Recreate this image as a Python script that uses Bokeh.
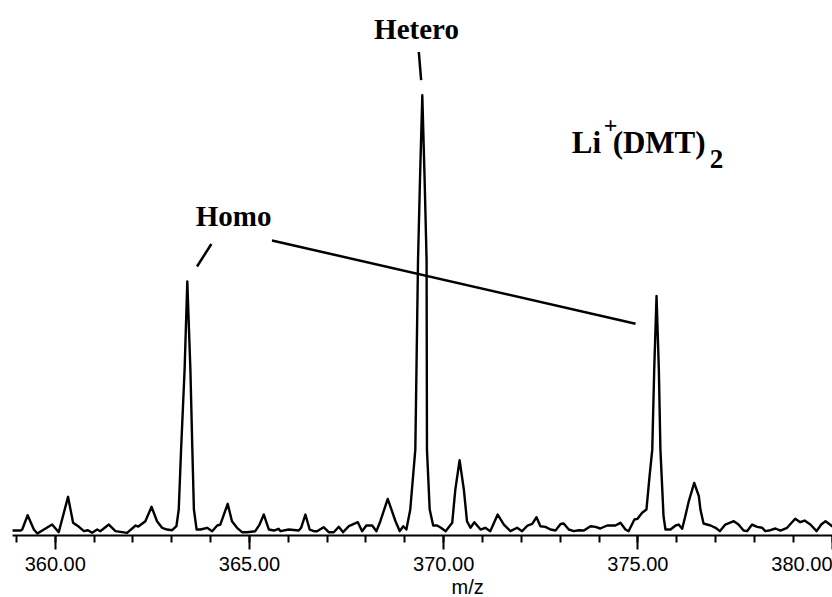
from bokeh.plotting import figure
from bokeh.models import FixedTicker, PrintfTickFormatter, Label, Range1d, Title
from bokeh.embed import file_html
from bokeh.resources import INLINE

# Spectrum trace (m/z, relative intensity %)
mz = [358.89, 359.11, 359.15, 359.29, 359.45, 359.54, 359.92, 360.09, 360.33, 360.46,
      360.61, 360.74, 360.84, 360.95, 361.08, 361.16, 361.38, 361.55, 361.85, 362.07,
      362.14, 362.32, 362.48, 362.62, 362.75, 362.88, 363.01, 363.12, 363.18, 363.24,
      363.33, 363.40, 363.48, 363.53, 363.57, 363.64, 363.74, 363.91, 364.04, 364.17,
      364.25, 364.44, 364.55, 364.68, 364.81, 364.94, 365.15, 365.26, 365.37, 365.50,
      365.63, 365.75, 365.80, 366.01, 366.27, 366.33, 366.44, 366.55, 366.66, 366.74,
      366.91, 367.04, 367.17, 367.30, 367.41, 367.56, 367.79, 367.90, 368.01, 368.16,
      368.27, 368.37, 368.56, 368.76, 368.87, 368.96, 369.04, 369.14, 369.27, 369.34,
      369.39, 369.45, 369.51, 369.56, 369.57, 369.64, 369.73, 369.83, 369.93, 370.05,
      370.22, 370.30, 370.41, 370.52, 370.60, 370.69, 370.79, 370.95, 371.07, 371.20,
      371.39, 371.55, 371.72, 371.89, 372.02, 372.16, 372.28, 372.39, 372.49, 372.62,
      372.75, 372.88, 373.01, 373.09, 373.22, 373.35, 373.48, 373.61, 373.78, 373.91,
      374.03, 374.21, 374.42, 374.55, 374.68, 374.76, 374.91, 374.99, 375.11, 375.22,
      375.30, 375.37, 375.42, 375.48, 375.54, 375.58, 375.66, 375.71, 375.84, 375.97,
      376.05, 376.14, 376.22, 376.31, 376.45, 376.57, 376.61, 376.69, 376.87, 377.00,
      377.11, 377.25, 377.47, 377.59, 377.72, 377.81, 377.94, 378.07, 378.20, 378.28,
      378.41, 378.54, 378.67, 378.84, 379.05, 379.18, 379.29, 379.44, 379.60, 379.72,
      379.83, 379.91, 380.01]
intensity = [1.13, 1.13, 1.36, 4.60, 1.36, 0.45, 2.49, 0.75, 8.78, 2.88,
             1.97, 0.98, 1.20, 0.61, 1.36, 0.98, 2.49, 0.98, 0.61, 2.27,
             2.04, 3.24, 6.51, 3.24, 1.75, 1.36, 1.20, 2.11, 5.90, 19.5,
             37.6, 57.7, 37.6, 19.5, 5.90, 1.36, 1.36, 1.75, 0.98, 2.27,
             2.49, 7.19, 3.24, 1.75, 0.75, 0.75, 0.98, 2.49, 4.76, 1.36,
             1.13, 1.52, 0.98, 1.36, 1.13, 1.75, 4.76, 1.36, 0.98, 0.98,
             1.88, 0.75, 0.75, 1.97, 0.75, 2.11, 3.02, 0.98, 2.27, 2.27,
             0.98, 3.24, 8.32, 3.24, 0.98, 2.11, 1.36, 5.90, 19.5, 62.6,
             80.7, 100.0, 80.7, 62.6, 19.5, 5.90, 2.27, 2.27, 1.75, 0.98,
             2.88, 10.43, 17.08, 10.43, 3.24, 1.75, 3.02, 1.36, 1.75, 0.98,
             4.76, 2.49, 0.98, 1.75, 0.98, 2.27, 2.65, 4.15, 2.11, 1.97,
             1.36, 1.13, 2.61, 2.72, 1.36, 0.98, 1.20, 1.13, 2.11, 1.97,
             1.59, 2.27, 2.27, 2.88, 1.36, 0.98, 3.63, 3.79, 5.15, 5.90,
             13.45, 19.5, 37.6, 54.4, 37.6, 19.5, 4.38, 1.36, 1.36, 2.27,
             2.49, 1.52, 4.38, 7.78, 11.95, 8.91, 5.90, 2.72, 2.27, 1.75,
             0.98, 2.49, 3.24, 2.49, 1.13, 0.98, 2.49, 1.97, 1.75, 0.98,
             1.20, 1.59, 1.13, 1.75, 3.79, 3.02, 3.40, 2.49, 0.98, 2.49,
             3.24, 2.72, 2.04]

major_ticks = [360, 365, 370, 375, 380]
minor_ticks = list(range(359, 381))
x_label = "m/z"

# Annotations
hetero_text, hetero_x, hetero_y = "Hetero", 369.30, 115.1
hetero_tick_x = [369.36, 369.42]
hetero_tick_y = [109.8, 103.4]
homo_text, homo_x, homo_y = "Homo", 364.59, 72.6
homo_tick_x = [364.02, 363.65]
homo_tick_y = [66.2, 61.1]
homo_line_x = [365.58, 374.94]
homo_line_y = [67.0, 48.1]

p = figure(width=832, height=597, output_backend="svg", toolbar_location=None,
           x_range=Range1d(358.9, 380.01), y_range=Range1d(0, 121.5),
           y_axis_location=None, min_border_left=12, min_border_right=0,
           min_border_top=0, min_border_bottom=0)
p.outline_line_color = None
p.grid.visible = False
p.background_fill_color = "white"
p.border_fill_color = "white"

p.line(mz, intensity, line_color="black", line_width=2.4, line_join="round")

ax = p.xaxis[0]
ax.ticker = FixedTicker(ticks=major_ticks, minor_ticks=minor_ticks)
ax.formatter = PrintfTickFormatter(format="%.2f")
ax.axis_line_color = "black"
ax.axis_line_width = 2
ax.major_tick_line_color = "black"
ax.major_tick_line_width = 2
ax.minor_tick_line_color = "black"
ax.minor_tick_line_width = 2
ax.major_tick_in = 0
ax.major_tick_out = 14
ax.minor_tick_in = 0
ax.minor_tick_out = 7
ax.major_label_standoff = 7
ax.major_label_text_font = "Liberation Sans"
ax.major_label_text_font_size = "20px"
ax.major_label_text_color = "black"

p.add_layout(Title(text=x_label, align="left", offset=439, standoff=0,
                   text_font="Liberation Sans", text_font_style="normal",
                   text_font_size="20px", text_color="black"), "below")

serif = "Liberation Serif"
p.add_layout(Label(x=hetero_x, y=hetero_y, text=hetero_text, text_align="center",
                   text_baseline="alphabetic", text_font=serif, text_font_style="bold",
                   text_font_size="29px", text_color="black"))
p.add_layout(Label(x=homo_x, y=homo_y, text=homo_text, text_align="center",
                   text_baseline="alphabetic", text_font=serif, text_font_style="bold",
                   text_font_size="29px", text_color="black"))
p.add_layout(Label(x=373.30, y=89.3, text="Li", text_align="left",
                   text_baseline="alphabetic", text_font=serif, text_font_style="bold",
                   text_font_size="31px", text_color="black"))
p.add_layout(Label(x=374.12, y=93.0, text="+", text_align="left",
                   text_baseline="alphabetic", text_font=serif, text_font_style="bold",
                   text_font_size="24px", text_color="black"))
p.add_layout(Label(x=374.35, y=89.3, text="(DMT)", text_align="left",
                   text_baseline="alphabetic", text_font=serif, text_font_style="bold",
                   text_font_size="31px", text_color="black"))
p.add_layout(Label(x=376.85, y=85.5, text="2", text_align="left",
                   text_baseline="alphabetic", text_font=serif, text_font_style="bold",
                   text_font_size="27px", text_color="black"))

p.line(hetero_tick_x, hetero_tick_y, line_color="black", line_width=2.5)
p.line(homo_tick_x, homo_tick_y, line_color="black", line_width=2.5)
p.line(homo_line_x, homo_line_y, line_color="black", line_width=2.5)

open("out.html", "w").write(file_html(p, INLINE))
